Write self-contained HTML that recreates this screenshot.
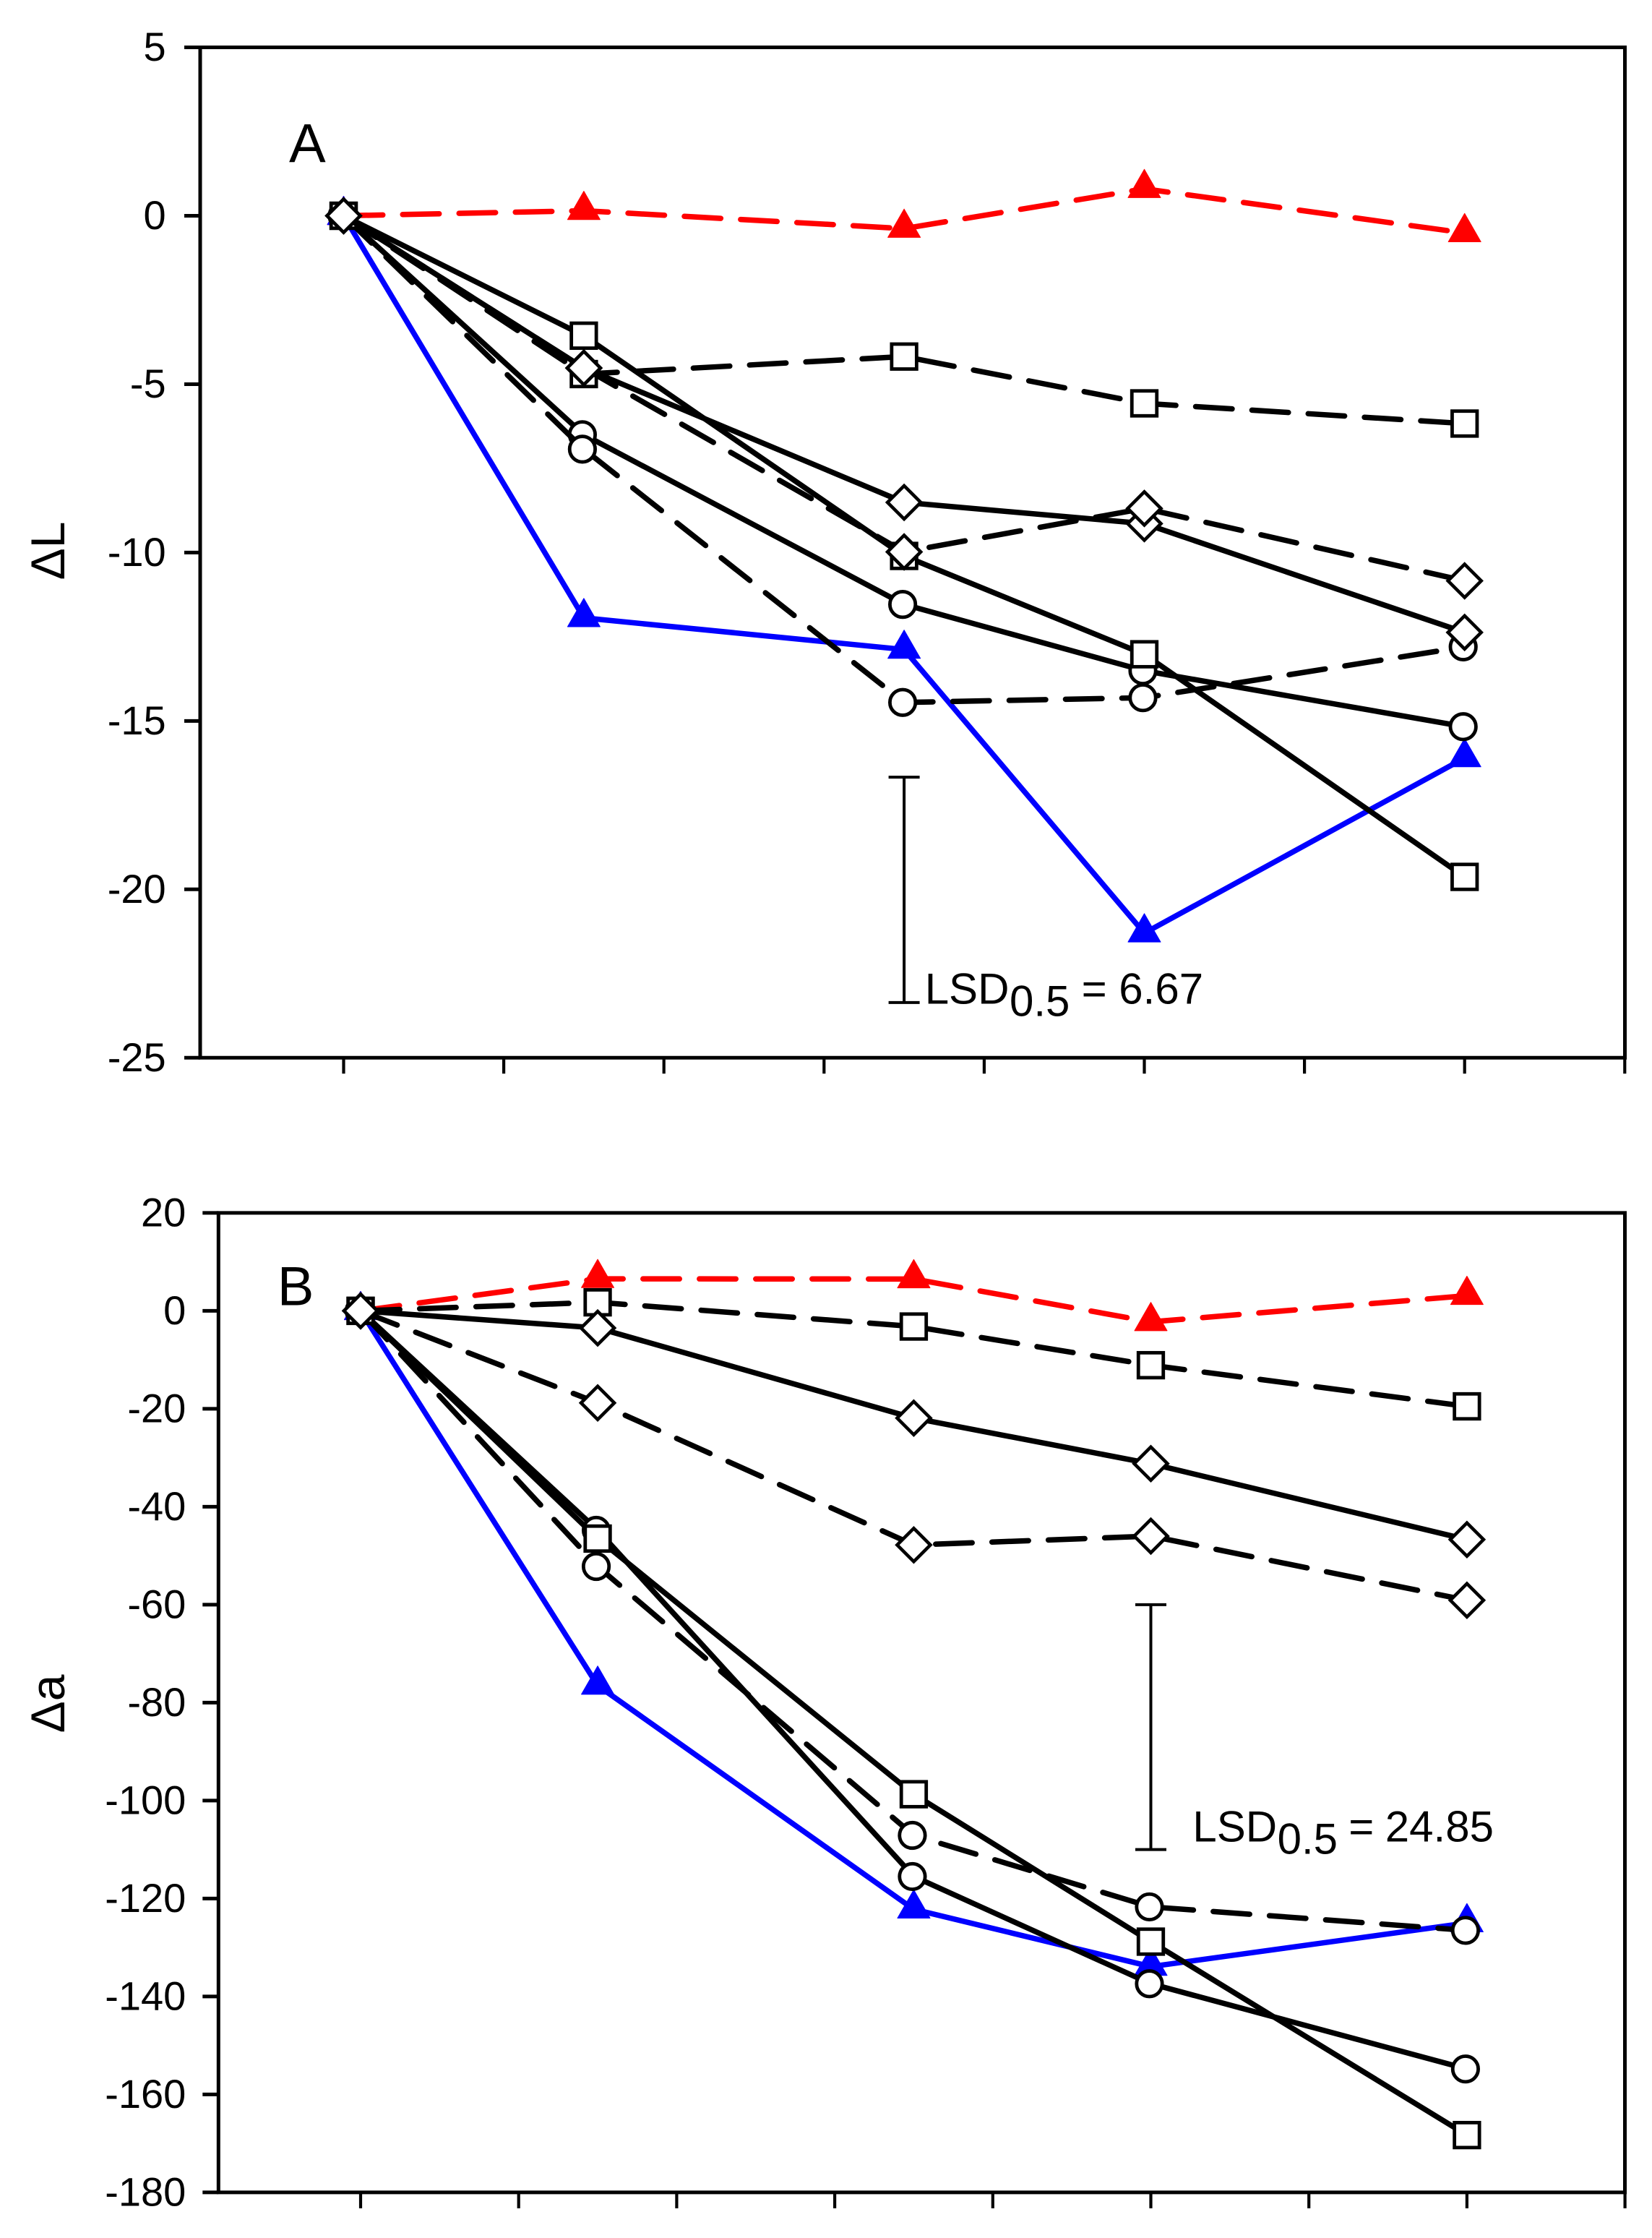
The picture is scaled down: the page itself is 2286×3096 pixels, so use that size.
<!DOCTYPE html>
<html lang="en">
<head>
<meta charset="utf-8">
<title>Change in L and a over time</title>
<style>
  html, body { margin: 0; padding: 0; background: #ffffff; }
  svg { display: block; }
  text { font-family: "Liberation Sans", Arial, sans-serif; fill: #000000; }
  .tick-label { font-size: 56px; text-anchor: end; }
  .panel-letter { font-size: 76px; }
  .axis-title { font-size: 66px; text-anchor: middle; }
  .lsd-text { font-size: 60px; }
</style>
</head>
<body>
<svg id="figure" xmlns="http://www.w3.org/2000/svg" width="2286" height="3096" viewBox="0 0 2286 3096">
  <rect x="0" y="0" width="2286" height="3096" fill="#ffffff"/>
  <g id="panel-a"></g>
  <g id="panel-b"></g>

  <text class="panel-letter" x="400" y="224.5">A</text>
  <text class="panel-letter" x="383.8" y="1805.5">B</text>

  <text class="axis-title" transform="translate(89 762) rotate(-90)">ΔL</text>
  <text class="axis-title" transform="translate(89 2357) rotate(-90)">Δa</text>

  <text class="lsd-text"><tspan x="1279.7" y="1388.3">LSD</tspan><tspan x="1397" y="1405.5">0.5</tspan><tspan x="1496.6" y="1388.3">=</tspan><tspan x="1548.3" y="1388.3">6.67</tspan></text>
  <text class="lsd-text"><tspan x="1650.4" y="2547.5">LSD</tspan><tspan x="1767.6" y="2564.7">0.5</tspan><tspan x="1866.3" y="2547.5">=</tspan><tspan x="1916.8" y="2547.5">24.85</tspan></text>
</svg>

<script>
// ---- Shared categories ----
const days = [0, 3, 7, 10, 14];
const xTickDays = [0, 2, 4, 6, 8, 10, 12, 14, 16];

// ---- Panel A values ----
const yTicksA = [5, 0, -5, -10, -15, -20, -25];
const aRedTriangle = [0, 0.15, -0.38, 0.8, -0.51];
const aBlueTriangle = [0, -11.94, -12.88, -21.3, -16.1];
const aSolidCircle = [0, -6.5, -11.54, -13.51, -15.17];
const aDashedCircle = [0, -6.93, -14.45, -14.31, -12.8];
const aDashedSquare = [0, -4.7, -4.18, -5.57, -6.17];
const aSolidSquare = [0, -3.56, -10.1, -13.02, -19.63];
const aSolidDiamond = [0, -4.52, -8.51, -9.14, -12.37];
const aDashedDiamond = [0, -4.52, -9.98, -8.69, -10.84];
const lsdA = [-16.67, -23.36];
const lsdDayA = 7;

// ---- Panel B values ----
const yTicksB = [20, 0, -20, -40, -60, -80, -100, -120, -140, -160, -180];
const bRedTriangle = [0, 6.54, 6.5, -2.25, 3.1];
const bBlueTriangle = [0, -76.5, -122.2, -133.9, -125];
const bSolidCircle = [0, -44.8, -115.5, -137.4, -154.8];
const bDashedCircle = [0, -52.2, -107.1, -121.7, -126.5];
const bDashedSquare = [0, 1.74, -3.2, -11.1, -19.5];
const bSolidSquare = [0, -46.5, -98.7, -128.8, -168.3];
const bSolidDiamond = [0, -3.5, -21.9, -31.2, -46.7];
const bDashedDiamond = [0, -18.8, -47.8, -46, -59.1];
const lsdB = [-60, -110];
const lsdDayB = 10;

const SVG_NS = 'http://www.w3.org/2000/svg';

function make(tag, attrs, parent) {
  const el = document.createElementNS(SVG_NS, tag);
  for (const k in attrs) el.setAttribute(k, attrs[k]);
  parent.appendChild(el);
  return el;
}

function drawMarker(group, kind, color, cx, cy, name) {
  let el;
  if (kind === 'triangle') {
    const pts = cx + ',' + (cy - 27) + ' ' + (cx + 22.5) + ',' + (cy + 12.2) + ' ' + (cx - 22.5) + ',' + (cy + 12.2);
    el = make('polygon', { points: pts, fill: color, stroke: color, 'stroke-width': 1, 'stroke-linejoin': 'round' }, group);
  } else if (kind === 'square') {
    el = make('rect', { x: cx - 17.25, y: cy - 17.25, width: 34.5, height: 34.5, fill: '#ffffff', stroke: '#000000', 'stroke-width': 4.8 }, group);
  } else if (kind === 'circle') {
    el = make('circle', { cx: cx - 2, cy: cy, r: 17.7, fill: '#ffffff', stroke: '#000000', 'stroke-width': 4.8 }, group);
  } else {
    const pts = cx + ',' + (cy - 23) + ' ' + (cx + 23) + ',' + cy + ' ' + cx + ',' + (cy + 23) + ' ' + (cx - 23) + ',' + cy;
    el = make('polygon', { points: pts, fill: '#ffffff', stroke: '#000000', 'stroke-width': 4.6, 'stroke-linejoin': 'miter' }, group);
  }
  
  
}

function drawPanel(root, prefix, cfg, yTicks, series, lsdValues, lsdDay) {
  const xOf = function (d) { return cfg.x0 + d * cfg.pxPerDay; };
  const yOf = function (v) { return cfg.y0 - v * cfg.pxPerUnit; };
  const axisW = 5;
  const top = yOf(yTicks[0]);
  const bottom = yOf(yTicks[yTicks.length - 1]);
  const tickLen = 22;

  // frame
  const frame = make('path', {
    d: 'M' + cfg.left + ' ' + top + ' H' + cfg.right + ' V' + bottom + ' H' + cfg.left + ' Z',
    fill: 'none', stroke: '#000000', 'stroke-width': axisW
  }, root);
  
  

  // y ticks and labels
  yTicks.forEach(function (t) {
    const tick = make('line', { x1: cfg.left - tickLen, x2: cfg.left, y1: yOf(t), y2: yOf(t), stroke: '#000000', 'stroke-width': axisW }, root);
    
    
    const label = make('text', { class: 'tick-label', x: cfg.labelX, y: yOf(t) + 18.5 }, root);
    label.textContent = String(t);
    
    
  });

  // x ticks
  xTickDays.forEach(function (d) {
    const tick = make('line', { x1: xOf(d), x2: xOf(d), y1: bottom, y2: bottom + tickLen, stroke: '#000000', 'stroke-width': 4.2 }, root);
    
    
  });

  // LSD bar
  const lsdX = xOf(lsdDay);
  const lsdPath = make('path', {
    d: 'M' + (lsdX - 21.5) + ' ' + yOf(lsdValues[0]) + ' H' + (lsdX + 21.5) +
       ' M' + lsdX + ' ' + yOf(lsdValues[0]) + ' V' + yOf(lsdValues[1]) +
       ' M' + (lsdX - 21.5) + ' ' + yOf(lsdValues[1]) + ' H' + (lsdX + 21.5),
    fill: 'none', stroke: '#000000', 'stroke-width': 4
  }, root);
  
  

  // series
  series.forEach(function (s) {
    const group = make('g', {}, root);
    
    
    const pts = s.values.map(function (v, i) { return xOf(days[i]) + ',' + yOf(v); }).join(' ');
    const attrs = { points: pts, fill: 'none', stroke: s.color, 'stroke-width': 7.5, 'stroke-linejoin': 'round' };
    if (s.dashed) {
      attrs['stroke-dasharray'] = '50.5 27.5';
      attrs['stroke-linecap'] = 'round';
      attrs['stroke-dashoffset'] = '-3.75';
    }
    const line = make('polyline', attrs, group);
    
    
    s.values.forEach(function (v, i) {
      drawMarker(group, s.kind, s.color, xOf(days[i]), yOf(v), prefix + '-point-' + s.name);
    });
  });
}

drawPanel(
  document.getElementById('panel-a'), 'panel-a',
  { left: 277, right: 2248.5, labelX: 229.7, x0: 475.5, pxPerDay: 110.8, y0: 298.5, pxPerUnit: 46.59 },
  yTicksA,
  [
    { name: 'red-triangle-dashed', kind: 'triangle', color: '#ff0000', dashed: true, values: aRedTriangle },
    { name: 'blue-triangle-solid', kind: 'triangle', color: '#0000ff', dashed: false, values: aBlueTriangle },
    { name: 'circle-solid', kind: 'circle', color: '#000000', dashed: false, values: aSolidCircle },
    { name: 'circle-dashed', kind: 'circle', color: '#000000', dashed: true, values: aDashedCircle },
    { name: 'square-dashed', kind: 'square', color: '#000000', dashed: true, values: aDashedSquare },
    { name: 'square-solid', kind: 'square', color: '#000000', dashed: false, values: aSolidSquare },
    { name: 'diamond-solid', kind: 'diamond', color: '#000000', dashed: false, values: aSolidDiamond },
    { name: 'diamond-dashed', kind: 'diamond', color: '#000000', dashed: true, values: aDashedDiamond }
  ],
  lsdA, lsdDayA
);

drawPanel(
  document.getElementById('panel-b'), 'panel-b',
  { left: 302.3, right: 2248.5, labelX: 257.3, x0: 499, pxPerDay: 109.35, y0: 1813.4, pxPerUnit: 6.775 },
  yTicksB,
  [
    { name: 'red-triangle-dashed', kind: 'triangle', color: '#ff0000', dashed: true, values: bRedTriangle },
    { name: 'blue-triangle-solid', kind: 'triangle', color: '#0000ff', dashed: false, values: bBlueTriangle },
    { name: 'circle-solid', kind: 'circle', color: '#000000', dashed: false, values: bSolidCircle },
    { name: 'circle-dashed', kind: 'circle', color: '#000000', dashed: true, values: bDashedCircle },
    { name: 'square-dashed', kind: 'square', color: '#000000', dashed: true, values: bDashedSquare },
    { name: 'square-solid', kind: 'square', color: '#000000', dashed: false, values: bSolidSquare },
    { name: 'diamond-solid', kind: 'diamond', color: '#000000', dashed: false, values: bSolidDiamond },
    { name: 'diamond-dashed', kind: 'diamond', color: '#000000', dashed: true, values: bDashedDiamond }
  ],
  lsdB, lsdDayB
);
</script>
</body>
</html>
